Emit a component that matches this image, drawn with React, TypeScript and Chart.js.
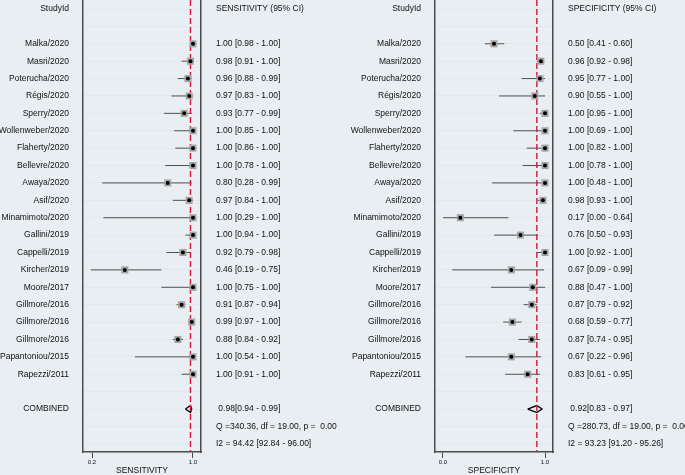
import React, { useEffect, useRef } from "react";
import { Chart, registerables } from "chart.js";
Chart.register(...registerables);

// ---------- data ----------
const studies = [
  "Malka/2020", "Masri/2020", "Poterucha/2020", "Régis/2020", "Sperry/2020",
  "Wollenweber/2020", "Flaherty/2020", "Bellevre/2020", "Awaya/2020", "Asif/2020",
  "Minamimoto/2020", "Gallini/2019", "Cappelli/2019", "Kircher/2019", "Moore/2017",
  "Gillmore/2016", "Gillmore/2016", "Gillmore/2016", "Papantoniou/2015", "Rapezzi/2011",
];

const sensEst = [1.00, 0.98, 0.96, 0.97, 0.93, 1.00, 1.00, 1.00, 0.80, 0.97, 1.00, 1.00, 0.92, 0.46, 1.00, 0.91, 0.99, 0.88, 1.00, 1.00];
const sensLo = [0.98, 0.91, 0.88, 0.83, 0.77, 0.85, 0.86, 0.78, 0.28, 0.84, 0.29, 0.94, 0.79, 0.19, 0.75, 0.87, 0.97, 0.84, 0.54, 0.91];
const sensHi = [1.00, 1.00, 0.99, 1.00, 0.99, 1.00, 1.00, 1.00, 0.99, 1.00, 1.00, 1.00, 0.98, 0.75, 1.00, 0.94, 1.00, 0.92, 1.00, 1.00];
const sensCombined = [0.98, 0.94, 0.99]; // estimate, lower, upper
const sensQ = "Q =340.36, df = 19.00, p =  0.00";
const sensI2 = "I2 = 94.42 [92.84 - 96.00]";
const sensTicks = [0.2, 1.0];

const specEst = [0.50, 0.96, 0.95, 0.90, 1.00, 1.00, 1.00, 1.00, 1.00, 0.98, 0.17, 0.76, 1.00, 0.67, 0.88, 0.87, 0.68, 0.87, 0.67, 0.83];
const specLo = [0.41, 0.92, 0.77, 0.55, 0.95, 0.69, 0.82, 0.78, 0.48, 0.93, 0.00, 0.50, 0.92, 0.09, 0.47, 0.79, 0.59, 0.74, 0.22, 0.61];
const specHi = [0.60, 0.98, 1.00, 1.00, 1.00, 1.00, 1.00, 1.00, 1.00, 1.00, 0.64, 0.93, 1.00, 0.99, 1.00, 0.92, 0.77, 0.95, 0.96, 0.95];
const specCombined = [0.92, 0.83, 0.97];
const specQ = "Q =280.73, df = 19.00, p =  0.00";
const specI2 = "I2 = 93.23 [91.20 - 95.26]";
const specTicks = [0.0, 1.0];

// ---------- styling ----------
const BG = "#e8eef1";
const GRID = "#e0e8ec";
const BORDER = "#4a4a4a";
const TEXT = "#111111";
const RED = "#d4163f";
const CI_COLOR = "#505050";
const SQ = "#a5a5a5";
const FONT_FAMILY = "'Liberation Sans', Arial, Helvetica, sans-serif";
const H = 475;
const Y_MIN = -0.5175;
const Y_MAX = 25.47;
const NROWS = 26;

const f2 = (v: number) => v.toFixed(2);

type PanelProps = {
  est: number[]; lo: number[]; hi: number[]; comb: number[];
  q: string; i2: string; header: string; title: string;
  xMin: number; xMax: number; tickVals: number[];
  leftW: number; rightW: number; width: number; left: number;
};

const zeroPad = (s: any) => {
  s.paddingTop = 0;
  s.paddingBottom = 0;
  s.paddingLeft = 0;
  s.paddingRight = 0;
};

function Panel(p: PanelProps) {
  const ref = useRef<HTMLCanvasElement>(null);
  useEffect(() => {
    const canvas = ref.current;
    if (!canvas) return;
    const leftLabels: string[] = Array(NROWS).fill("");
    leftLabels[0] = "StudyId";
    studies.forEach((s, i) => (leftLabels[i + 2] = s));
    leftLabels[23] = "COMBINED";
    const rightLabels: string[] = Array(NROWS).fill("");
    rightLabels[0] = p.header;
    p.est.forEach((e, i) => (rightLabels[i + 2] = `${f2(e)} [${f2(p.lo[i])} - ${f2(p.hi[i])}]`));
    rightLabels[23] = ` ${f2(p.comb[0])}[${f2(p.comb[1])} - ${f2(p.comb[2])}]`;
    rightLabels[24] = p.q;
    rightLabels[25] = p.i2;

    const pts = p.est.map((e, i) => ({ x: e, y: i + 2 }));
    const ci: { x: number; y: number }[] = [];
    p.est.forEach((_, i) => {
      ci.push({ x: p.lo[i], y: i + 2 }, { x: p.hi[i], y: i + 2 }, { x: NaN, y: NaN });
    });
    const cr = 23;
    const dh = 0.2;
    const diamond = [
      { x: p.comb[1], y: cr }, { x: p.comb[0], y: cr - dh }, { x: p.comb[2], y: cr },
      { x: p.comb[0], y: cr + dh }, { x: p.comb[1], y: cr },
    ];
    const refLine = [{ x: p.comb[0], y: Y_MIN }, { x: p.comb[0], y: Y_MAX }];

    const font = { family: FONT_FAMILY, size: 8.5 };
    const rowTicks = (s: any) => {
      s.ticks = Array.from({ length: NROWS }, (_, i) => ({ value: i }));
    };

    const chart = new Chart(canvas, {
      type: "scatter",
      data: {
        datasets: [
          { data: ci, showLine: true, borderColor: CI_COLOR, borderWidth: 1, pointRadius: 0, order: 5 } as any,
          { data: diamond, showLine: true, borderColor: "#000", borderWidth: 1.3, borderJoinStyle: "miter", pointRadius: 0, order: 4 } as any,
          { data: refLine, showLine: true, borderColor: RED, borderWidth: 1.4, borderDash: [6, 3], pointRadius: 0, order: 3 } as any,
          { data: pts, pointStyle: "rect", pointRadius: 5, backgroundColor: SQ, borderWidth: 0, order: 2 } as any,
          { data: pts, pointStyle: "circle", pointRadius: 2, backgroundColor: "#000", borderWidth: 0, order: 1 } as any,
        ],
      },
      options: {
        animation: false,
        responsive: false,
        devicePixelRatio: 1,
        events: [],
        layout: { padding: 0, autoPadding: false },
        plugins: { legend: { display: false }, tooltip: { enabled: false } },
        scales: {
          x: {
            type: "linear",
            position: "bottom",
            min: p.xMin,
            max: p.xMax,
            afterBuildTicks: (s: any) => { s.ticks = p.tickVals.map((v) => ({ value: v })); },
            afterFit: (s: any) => { s.height = H - 452; zeroPad(s); },
            grid: { display: true, drawOnChartArea: false, drawTicks: true, tickLength: 6, color: BORDER, lineWidth: 1 },
            border: { display: true, color: BORDER, width: 1.5 },
            ticks: {
              autoSkip: false, padding: 1, color: TEXT, maxRotation: 0,
              font: { family: FONT_FAMILY, size: 6 },
              callback: (v: any) => Number(v).toFixed(1),
            },
            title: { display: true, text: p.title, color: TEXT, font, padding: { top: 0, bottom: -1 } },
          },
          y: {
            type: "linear",
            position: "left",
            reverse: true,
            min: Y_MIN,
            max: Y_MAX,
            afterBuildTicks: rowTicks,
            afterFit: (s: any) => { s.width = p.leftW; zeroPad(s); },
            grid: { display: true, drawTicks: false, color: GRID, lineWidth: 1 },
            border: { display: true, color: BORDER, width: 1.5 },
            ticks: {
              autoSkip: false, padding: 14, color: TEXT, font,
              callback: (v: any) => leftLabels[Number(v)] ?? "",
            },
          },
          yr: {
            type: "linear",
            position: "right",
            reverse: true,
            min: Y_MIN,
            max: Y_MAX,
            afterBuildTicks: rowTicks,
            afterFit: (s: any) => { s.width = p.rightW; zeroPad(s); },
            grid: { display: false, drawTicks: false },
            border: { display: true, color: BORDER, width: 1.5 },
            ticks: {
              autoSkip: false, padding: 15, color: TEXT, font,
              callback: (v: any) => rightLabels[Number(v)] ?? "",
            },
          },
        },
      } as any,
    });
    return () => chart.destroy();
  }, []);
  return (
    <canvas
      ref={ref}
      width={p.width}
      height={H}
      style={{ position: "absolute", left: p.left, top: 0, width: p.width, height: H }}
    />
  );
}

export default function App() {
  return (
    <div style={{ position: "fixed", left: 0, top: 0, width: 685, height: H, background: BG, overflow: "hidden" }}>
      <Panel
        est={sensEst} lo={sensLo} hi={sensHi} comb={sensCombined}
        q={sensQ} i2={sensI2} header="SENSITIVITY (95% CI)" title="SENSITIVITY"
        xMin={0.1287} xMax={1.0634} tickVals={sensTicks}
        leftW={83} rightW={343 - 201} width={343} left={0}
      />
      <Panel
        est={specEst} lo={specLo} hi={specHi} comb={specCombined}
        q={specQ} i2={specI2} header="SPECIFICITY (95% CI)" title="SPECIFICITY"
        xMin={-0.0784} xMax={1.0784} tickVals={specTicks}
        leftW={435 - 343} rightW={685 - 553} width={342} left={343}
      />
    </div>
  );
}
